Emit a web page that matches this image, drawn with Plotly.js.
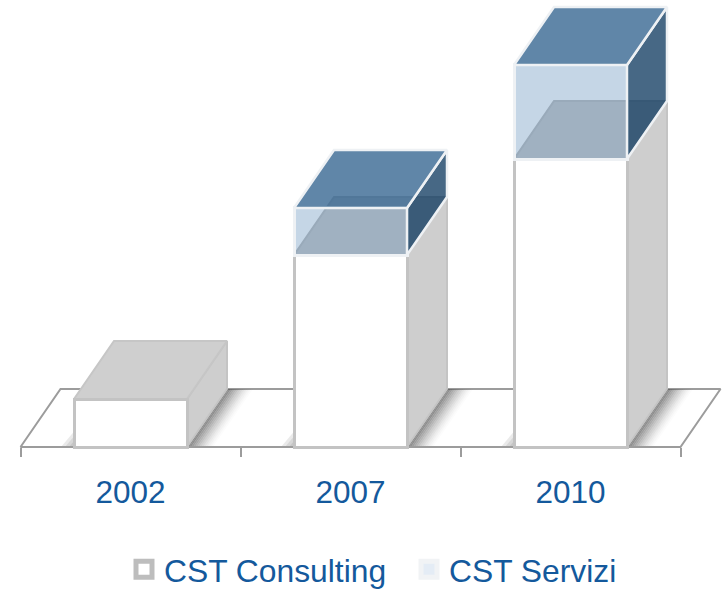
<!DOCTYPE html>
<html>
<head>
<meta charset="utf-8">
<script src="https://cdn.plot.ly/plotly-3.0.1.min.js"></script>
<style>html,body{margin:0;padding:0;background:#fff}#c{width:723px;height:589px}</style>
</head>
<body>
<div id="c"></div>
<script>
var years = ['2002', '2007', '2010'];
var consulting = [1, 4, 6];
var servizi = [null, 0.98, 1.96];
var seriesNames = ['CST Consulting', 'CST Servizi'];

// scale of the pseudo-3D projection, in axis units
var W = 723, H = 589;
var legendTop = 542;          // the legend reserves the page below this line
var pxX = 220, pxY = 48;
var xRange = [-130.5 / pxX, (W - 130.5) / pxX];
var yRange = [-(legendTop - 447) / pxY, 447 / pxY];
var halfW = 56.5 / pxX;
var dx = 40 / pxX, dy = 58 / pxY;
var blue = '#14599c';
var font = 'Liberation Sans, Arial, sans-serif';
var paleEdge = '#eef1f4';
var floorLine = '#9c9c9c';

var pos = years.map(function (_, i) { return i; });

function polys(list) {
  var xs = [], ys = [];
  list.forEach(function (p, k) {
    if (k) { xs.push(null); ys.push(null); }
    p.forEach(function (q) { xs.push(q[0]); ys.push(q[1]); });
    xs.push(p[0][0]); ys.push(p[0][1]);
  });
  return { x: xs, y: ys };
}
function face(list, fill, lineColor, lineWidth, xa, ya) {
  var d = polys(list);
  return {
    type: 'scatter', mode: 'lines', x: d.x, y: d.y, fill: 'toself', fillcolor: fill,
    line: { color: lineColor, width: lineWidth, simplify: false },
    xaxis: xa || 'x', yaxis: ya || 'y', showlegend: false, hoverinfo: 'skip'
  };
}
function sideFace(i, lo, hi) {
  var r = pos[i] + halfW;
  return [[r, lo], [r + dx, lo + dy], [r + dx, hi + dy], [r, hi]];
}
function topFace(i, h) {
  var l = pos[i] - halfW, r = pos[i] + halfW;
  return [[l, h], [r, h], [r + dx, h + dy], [l + dx, h + dy]];
}

var traces = [];

// floor
traces.push(face([[[-0.5, 0], [-0.5 + dx, dy], [2.5 + dx, dy], [2.5, 0]]], '#ffffff', floorLine, 2));

// soft shadows cast on the floor
var shadowSteps = 13;
for (var s = 0; s < shadowSteps; s++) {
  var a0 = s * 2 / pxX, a1 = (s + 1) * 2 / pxX;
  var shade = 0.72 * Math.pow(1 - s / shadowSteps, 1.5);
  var list = pos.map(function (p) {
    var r = p + halfW;
    return [[r + a0, 0], [r + a1, 0], [r + dx + a1, dy], [r + dx + a0, dy]];
  });
  traces.push(face(list, 'rgba(80,80,80,' + shade.toFixed(3) + ')', 'rgba(0,0,0,0)', 0));
}
[13, 9, 5].forEach(function (d) {
  var list = pos.map(function (p) {
    var l = p - halfW;
    return [[l, 0], [l - d / pxX, 0], [l, d * 1.2 / pxY]];
  });
  traces.push(face(list, 'rgba(90,90,90,0.13)', 'rgba(0,0,0,0)', 0));
});

// floor front edge drawn again so the shadows do not soften it
traces.push({
  type: 'scatter', mode: 'lines', x: [-0.5, 2.5], y: [0, 0], line: { color: floorLine, width: 2 },
  showlegend: false, hoverinfo: 'skip'
});

// Consulting side and top
traces.push(face(pos.map(function (_, i) { return sideFace(i, 0, consulting[i]); }), '#cecece', '#c4c4c4', 2));
traces.push(face(pos.map(function (_, i) { return topFace(i, consulting[i]); }), '#cfcfcf', '#c6c6c6', 2));

// Front faces as stacked bars, on an overlay subplot above the depth faces
traces.push({
  type: 'bar', x: pos, y: consulting, width: 2 * halfW, xaxis: 'x2', yaxis: 'y2', name: seriesNames[0],
  marker: { color: '#ffffff', line: { color: '#c3c3c3', width: 3 } }, showlegend: false, hoverinfo: 'skip'
});
traces.push({
  type: 'bar', x: pos, y: servizi, width: 2 * halfW, xaxis: 'x2', yaxis: 'y2', name: seriesNames[1],
  marker: { color: 'rgba(3,76,148,0.23)', line: { color: paleEdge, width: 3 } }, showlegend: false, hoverinfo: 'skip'
});

// Servizi translucent box: side and top
var boxed = pos.filter(function (i) { return servizi[i] !== null; });
traces.push(face(boxed.map(function (i) { return sideFace(i, consulting[i], consulting[i] + servizi[i]); }),
  'rgba(0,46,86,0.72)', paleEdge, 2.5, 'x2', 'y2'));
traces.push(face(boxed.map(function (i) { return topFace(i, consulting[i] + servizi[i]); }),
  'rgba(40,92,138,0.74)', paleEdge, 2.5, 'x2', 'y2'));

// legend keys
traces.push({
  type: 'scatter', mode: 'markers', x: [null], y: [null], name: seriesNames[0],
  marker: { symbol: 'square', size: 16, color: '#ffffff', line: { color: '#bdbdbd', width: 5 } }, hoverinfo: 'skip'
});
traces.push({
  type: 'scatter', mode: 'markers', x: [null], y: [null], name: seriesNames[1],
  marker: { symbol: 'square', size: 16, color: '#e4ecf5', line: { color: '#f1f3f5', width: 5 } }, hoverinfo: 'skip'
});

var layout = {
  width: W, height: H,
  margin: { l: 0, r: 0, t: 0, b: 0, pad: 0 },
  paper_bgcolor: '#ffffff', plot_bgcolor: 'rgba(0,0,0,0)',
  barmode: 'stack',
  font: { family: font, color: blue, size: 31.5 },
  xaxis: {
    range: xRange, domain: [0, 1], anchor: 'free', position: (legendTop - 447) / legendTop,
    showgrid: false, zeroline: false, showline: false, fixedrange: true,
    tickmode: 'array', tickvals: pos, ticktext: years, ticks: 'outside', ticklen: 17,
    tickcolor: 'rgba(0,0,0,0)', tickfont: { family: font, size: 31.5, color: blue },
    minor: { ticks: 'outside', tickmode: 'array', tickvals: [-0.5, 0.5, 1.5, 2.5], ticklen: 9, tickwidth: 2, tickcolor: floorLine, showgrid: false }
  },
  yaxis: { range: yRange, domain: [0, 1], visible: false, fixedrange: true },
  xaxis2: { range: xRange, overlaying: 'x', anchor: 'y2', visible: false, fixedrange: true },
  yaxis2: { range: yRange, overlaying: 'y', anchor: 'x2', visible: false, fixedrange: true },
  showlegend: true,
  legend: {
    orientation: 'h', x: 124 / W, xanchor: 'left', y: 1 - legendTop / H, yanchor: 'top', yref: 'container',
    font: { family: font, size: 31.8, color: blue }, bgcolor: 'rgba(0,0,0,0)',
    entrywidth: 240, entrywidthmode: 'pixels', itemwidth: 30, traceorder: 'normal'
  }
};

Plotly.newPlot('c', traces, layout, { staticPlot: true, displayModeBar: false });
</script>
</body>
</html>
